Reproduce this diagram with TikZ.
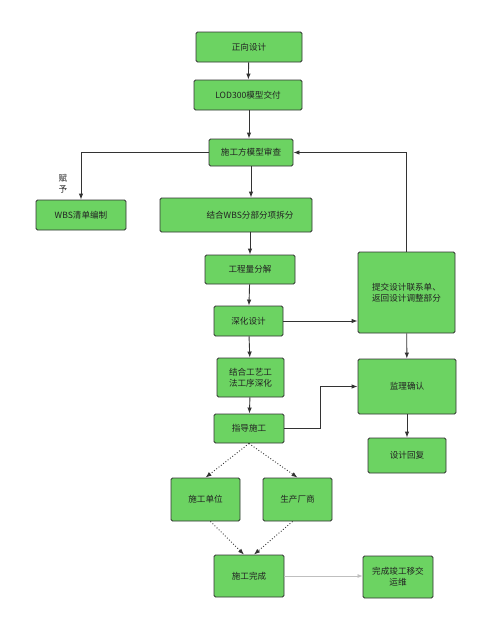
\documentclass[tikz,border=0pt]{standalone}
\usepackage{fontspec}
\newfontfamily\cjk{Noto Sans CJK SC}
\usetikzlibrary{arrows.meta}
\definecolor{boxgreen}{RGB}{108,211,98}
\definecolor{edgegray}{RGB}{51,51,51}
\definecolor{txtgray}{RGB}{34,34,34}
\tikzset{
  gbox/.style={draw=edgegray, line width=0.9pt, fill=boxgreen, rounded corners=1.5pt,
    inner sep=1pt, font=\cjk\fontsize{8.6}{11}\selectfont, text=txtgray, align=center},
  conn/.style={draw=edgegray, line width=0.9pt, -{Latex[length=6pt,width=4.5pt]}},
  dconn/.style={draw=edgegray, line width=0.9pt, dotted, -{Latex[length=6pt,width=4.5pt]}},
  lconn/.style={draw=black!25, line width=0.7pt, -{Latex[length=5pt,width=4pt]}},
  lbl/.style={font=\cjk\fontsize{8.6}{11}\selectfont, text=txtgray, align=center, inner sep=0pt}
}
\begin{document}
\begin{tikzpicture}[x=1pt,y=-1pt]
\useasboundingbox[fill=white] (0,0) rectangle (493,629);
\node[gbox, minimum width=106pt, minimum height=30pt] (b1) at (249,47) {正向设计};
\node[gbox, minimum width=108pt, minimum height=30pt] (b2) at (248,95) {LOD300模型交付};
\node[gbox, minimum width=84pt, minimum height=27pt] (b3) at (251,152.5) {施工方模型审查};
\node[gbox, minimum width=90pt, minimum height=30pt] (b4) at (81,215) {WBS清单编制};
\node[gbox, minimum width=152pt, minimum height=34pt] (b5) at (236,215) {};
\node[lbl] (t5) at (250,215) {结合WBS分部分项拆分};
\node[gbox, minimum width=90pt, minimum height=29pt] (b6) at (250,269.5) {工程量分解};
\node[gbox, minimum width=69pt, minimum height=30pt] (b7) at (248.5,321) {深化设计};
\node[gbox, minimum width=67pt, minimum height=39pt] (b8) at (250.5,377.5) {结合工艺工\\法工序深化};
\node[gbox, minimum width=70pt, minimum height=29pt] (b9) at (249,428.5) {指导施工};
\node[gbox, minimum width=69pt, minimum height=43pt] (b10) at (205.5,499.5) {施工单位};
\node[gbox, minimum width=69pt, minimum height=43pt] (b11) at (297.5,499.5) {生产厂商};
\node[gbox, minimum width=70pt, minimum height=42pt] (b12) at (249,576) {施工完成};
\node[gbox, minimum width=97pt, minimum height=81pt] (b13) at (406.5,292.5) {提交设计联系单、\\返回设计调整部分};
\node[gbox, minimum width=98pt, minimum height=55pt] (b14) at (407,386.5) {监理确认};
\node[gbox, minimum width=78pt, minimum height=35pt] (b15) at (407,455.5) {设计回复};
\node[gbox, minimum width=70pt, minimum height=42pt] (b16) at (398,577) {完成竣工移交\\运维};
\node[lbl] (fy) at (63,184) {赋\\予};
\coordinate (j1) at (320,428.5);
\draw[conn] (b1) -- (b2);
\draw[conn] ([xshift=1pt]b2.south) -- ([xshift=1pt]b2.south |- b3.north);
\draw[conn] (b3.west) -| (b4.north);
\draw[conn] (b3.south) -- (b3.south |- b5.north);
\draw[conn] (b5.north -| b6.north) ++(0,34) -- (b6.north);
\draw[conn] (b6) -- (b7);
\draw[conn] (b7) -- (b8);
\draw[conn] (b8) -- (b9);
\draw[conn] (b7.east) -- (b7.east -| b13.west);
\draw[conn] (b13.north) |- (b3.east);
\draw[conn] (b13) -- (b14);
\draw[conn] (b14) -- (b15);
\draw[conn] (b9.east) -- (j1) |- (b14.west);
\draw[dconn] (b9.south) -- (b10.north);
\draw[dconn] (b9.south) -- (b11.north);
\draw[dconn] ([xshift=5pt]b10.south) -- ([xshift=-5pt]b12.north);
\draw[dconn] ([xshift=-5pt]b11.south) -- ([xshift=5pt]b12.north);
\draw[lconn] (b12.east) -- (b12.east -| b16.west);
\end{tikzpicture}
\end{document}
